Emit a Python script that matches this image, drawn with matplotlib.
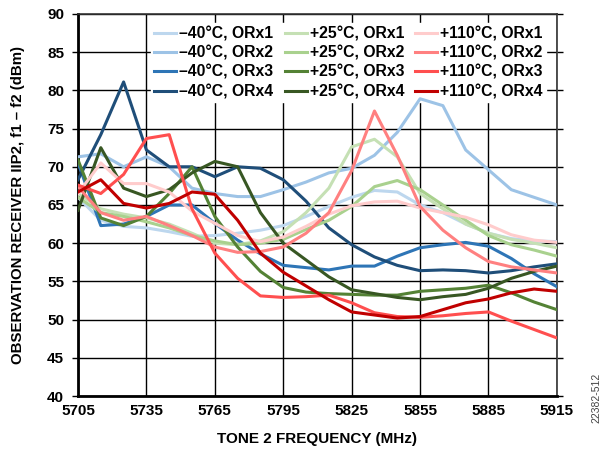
import matplotlib.pyplot as plt
import numpy as np

plt.rcParams['font.family'] = ['Liberation Sans', 'DejaVu Sans']

freq = np.arange(5705, 5916, 10)

# -40C
m40_orx1 = [66.0, 63.0, 62.2, 62.0, 61.5, 60.9, 61.0, 61.3, 61.7, 62.3, 63.5, 64.8,
            66.0, 66.9, 66.7, 65.0, 64.0, 62.5, 61.3, 60.6, 60.3, 60.2]
m40_orx2 = [71.3, 71.7, 70.0, 71.3, 70.0, 67.2, 66.5, 66.1, 66.1, 67.0, 68.0, 69.2,
            69.8, 71.5, 74.5, 78.9, 78.0, 72.2, 69.6, 67.0, 66.0, 65.0]
m40_orx3 = [70.5, 62.3, 62.5, 63.5, 65.0, 65.0, 62.6, 60.4, 58.6, 57.1, 56.8, 56.5,
            57.0, 57.0, 58.3, 59.4, 59.8, 60.1, 59.6, 58.0, 56.0, 54.3]
m40_orx4 = [68.3, 74.2, 81.1, 72.2, 70.0, 70.0, 68.7, 70.0, 69.8, 68.3, 65.5, 62.0,
            59.8, 58.2, 57.1, 56.4, 56.5, 56.4, 56.1, 56.4, 56.9, 57.3]

# +25C
p25_orx1 = [66.5, 64.5, 63.8, 63.3, 62.5, 61.3, 60.0, 59.8, 60.3, 61.5, 64.0, 67.2,
            72.6, 73.6, 71.3, 66.5, 64.5, 62.5, 61.3, 60.5, 60.0, 59.4]
p25_orx2 = [66.0, 64.0, 63.5, 62.8, 62.0, 61.0, 60.3, 59.8, 60.0, 60.5, 61.8, 63.0,
            64.8, 67.4, 68.2, 67.0, 65.0, 63.0, 61.0, 59.8, 59.1, 58.3]
p25_orx3 = [70.9, 63.3, 62.3, 63.5, 66.5, 70.0, 63.5, 59.5, 56.3, 54.2, 53.6, 53.4,
            53.3, 53.2, 53.2, 53.7, 53.9, 54.1, 54.5, 53.5, 52.3, 51.3]
p25_orx4 = [64.3, 72.5, 67.2, 66.1, 67.0, 69.2, 70.7, 70.0, 64.0, 60.0, 57.8, 55.6,
            53.9, 53.4, 52.9, 52.6, 53.0, 53.3, 54.1, 55.4, 56.3, 57.0]

# +110C
p110_orx1 = [66.5, 70.5, 67.8, 67.8, 66.7, 64.2, 62.6, 61.0, 60.2, 60.8, 62.2, 63.8,
             64.9, 65.4, 65.5, 64.6, 64.0, 63.4, 62.4, 61.1, 60.4, 60.1]
p110_orx2 = [67.4, 64.0, 63.0, 63.5, 62.3, 61.0, 59.5, 58.8, 58.9, 59.5, 61.3, 64.0,
             69.5, 77.3, 71.5, 64.8, 61.7, 59.4, 57.6, 56.9, 56.5, 56.1]
p110_orx3 = [67.6, 66.5, 69.0, 73.7, 74.2, 64.5, 58.7, 55.4, 53.1, 52.9, 53.0, 53.2,
             52.2, 50.9, 50.4, 50.3, 50.5, 50.8, 51.0, 49.8, 48.7, 47.6]
p110_orx4 = [66.7, 68.3, 65.2, 64.6, 65.2, 66.7, 66.4, 63.0, 58.7, 56.2, 54.4, 52.6,
             51.0, 50.6, 50.2, 50.4, 51.3, 52.2, 52.7, 53.5, 54.0, 53.7]

series = [
    ("–40°C, ORx1", m40_orx1, "#bdd7ee"),
    ("–40°C, ORx2", m40_orx2, "#9dc3e6"),
    ("–40°C, ORx3", m40_orx3, "#2e75b6"),
    ("–40°C, ORx4", m40_orx4, "#1f4e79"),
    ("+25°C, ORx1", p25_orx1, "#c5e0b4"),
    ("+25°C, ORx2", p25_orx2, "#a9d18e"),
    ("+25°C, ORx3", p25_orx3, "#548235"),
    ("+25°C, ORx4", p25_orx4, "#385723"),
    ("+110°C, ORx1", p110_orx1, "#ffcccc"),
    ("+110°C, ORx2", p110_orx2, "#ff8080"),
    ("+110°C, ORx3", p110_orx3, "#ff4f4f"),
    ("+110°C, ORx4", p110_orx4, "#c00000"),
]

fig = plt.figure(figsize=(6.06, 4.5), dpi=100)
ax = fig.add_axes([0.1287, 0.12, 0.7903, 0.849])

for label, vals, color in series:
    ax.plot(freq, vals, color=color, lw=2.2, label=label, zorder=3)

ax.set_xlim(5705, 5915)
ax.set_ylim(40, 90)
ax.set_xticks(np.arange(5705, 5916, 30))
ax.set_yticks(np.arange(40, 91, 5))
ax.grid(True, color="black", lw=1.0)
ax.set_axisbelow(True)

for lbl in ax.get_xticklabels() + ax.get_yticklabels():
    lbl.set_fontweight("bold")
ax.tick_params(axis="both", labelsize=11, length=0, pad=6)
ax.tick_params(axis="y", right=True, length=4, direction="out", width=1)
ax.spines["left"].set_linewidth(2)
ax.spines["bottom"].set_linewidth(2)
ax.spines["right"].set_linewidth(1.2)
ax.spines["top"].set_linewidth(1.2)
ax.spines["right"].set_color("#333333")
ax.spines["top"].set_color("#333333")

ax.set_xlabel("TONE 2 FREQUENCY (MHz)", fontsize=11, fontweight="bold", labelpad=10)
ax.set_ylabel("OBSERVATION RECEIVER IIP2, f1 – f2 (dBm)", fontsize=10.8,
              fontweight="bold", labelpad=16)

leg = ax.legend(ncol=3, loc="upper right", bbox_to_anchor=(0.977, 0.976),
                frameon=True, fancybox=False, framealpha=1, edgecolor="white",
                prop={"weight": "bold", "size": 11.3}, handlelength=1.4,
                handletextpad=0.2, columnspacing=0.7, labelspacing=0.27,
                borderpad=0.2, borderaxespad=0)
# legend box hides grid, but curves stay on top of it
leg.set_zorder(2)

fig.text(0.985, 0.06, "22382-512", rotation=90, fontsize=7.5, color="#444444",
         ha="center", va="bottom")

fig.savefig("out.png", dpi=100)
